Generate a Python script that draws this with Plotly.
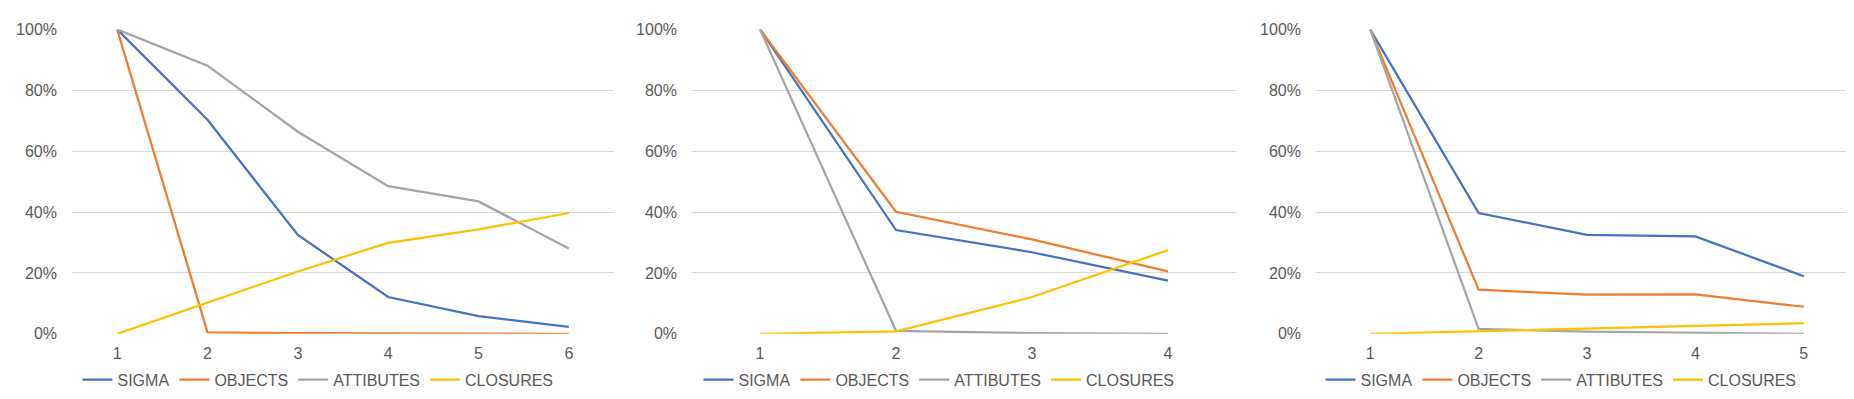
import plotly.graph_objects as go

series_names = ["SIGMA", "OBJECTS", "ATTIBUTES", "CLOSURES"]
series_colors = ["#4472C4", "#ED7D31", "#A5A5A5", "#FFC000"]

# Chart 1 (steps 1..6), fractions
c1_x = [1, 2, 3, 4, 5, 6]
c1_sigma = [1.00, 0.703, 0.325, 0.121, 0.058, 0.023]
c1_objects = [1.00, 0.005, 0.002, 0.001, 0.001, 0.0]
c1_attibutes = [1.00, 0.881, 0.664, 0.485, 0.435, 0.280]
c1_closures = [0.0, 0.102, 0.205, 0.299, 0.343, 0.397]

# Chart 2 (steps 1..4)
c2_x = [1, 2, 3, 4]
c2_sigma = [1.00, 0.341, 0.268, 0.175]
c2_objects = [1.00, 0.401, 0.310, 0.205]
c2_attibutes = [1.00, 0.010, 0.002, 0.0]
c2_closures = [0.0, 0.008, 0.121, 0.275]

# Chart 3 (steps 1..5)
c3_x = [1, 2, 3, 4, 5]
c3_sigma = [1.00, 0.397, 0.325, 0.320, 0.189]
c3_objects = [1.00, 0.145, 0.129, 0.130, 0.089]
c3_attibutes = [1.00, 0.016, 0.007, 0.003, 0.0]
c3_closures = [0.0, 0.008, 0.016, 0.026, 0.035]

y_ticks = [0, 0.2, 0.4, 0.6, 0.8, 1.0]
y_tick_labels = ["0%", "20%", "40%", "60%", "80%", "100%"]

charts = [
    (c1_x, [c1_sigma, c1_objects, c1_attibutes, c1_closures]),
    (c2_x, [c2_sigma, c2_objects, c2_attibutes, c2_closures]),
    (c3_x, [c3_sigma, c3_objects, c3_attibutes, c3_closures]),
]

W, H = 1854, 399
x_domains = [(64, 606), (684, 1228), (1308, 1850)]
legend_centers = [310, 931, 1553]
y_top, y_bottom = 14, 332

FONT = "Liberation Sans, Arial, sans-serif"
TXT = "#595959"
GRID = "#D9D9D9"

fig = go.Figure()
layout = dict(
    width=W, height=H,
    margin=dict(l=0, r=0, t=0, b=0),
    paper_bgcolor="white", plot_bgcolor="white",
    font=dict(family=FONT, size=16, color=TXT),
)

for i, (xs, ys_list) in enumerate(charts):
    idx = "" if i == 0 else str(i + 1)
    leg = "legend" if i == 0 else f"legend{i + 1}"
    for name, color, ys in zip(series_names, series_colors, ys_list):
        fig.add_trace(go.Scatter(
            x=xs, y=ys, mode="lines", name=name,
            line=dict(color=color, width=2.25),
            xaxis=f"x{idx}", yaxis=f"y{idx}", legend=leg,
            hoverinfo="skip",
        ))
    d0, d1 = x_domains[i]
    layout[f"xaxis{idx}"] = dict(
        domain=[d0 / W, d1 / W],
        range=[0.5, len(xs) + 0.5],
        tickvals=xs, ticktext=[str(v) for v in xs],
        showgrid=False, zeroline=False, showline=False,
        ticks="", ticklabelstandoff=8,
        tickfont=dict(family=FONT, size=16, color=TXT),
        anchor=f"y{idx}", fixedrange=True,
    )
    layout[f"yaxis{idx}"] = dict(
        domain=[1 - y_bottom / H, 1 - y_top / H],
        range=[0, 1],
        tickvals=y_ticks, ticktext=y_tick_labels,
        showgrid=True, gridcolor=GRID, gridwidth=1,
        zeroline=False, showline=False,
        ticks="", ticklabelstandoff=14,
        tickfont=dict(family=FONT, size=16, color=TXT),
        anchor=f"x{idx}", fixedrange=True,
    )
    layout[leg] = dict(
        orientation="h",
        x=legend_centers[i] / W, xanchor="center",
        y=1 - 380 / H, yanchor="middle",
        font=dict(family=FONT, size=16, color=TXT),
        itemwidth=30, bgcolor="rgba(0,0,0,0)",
        traceorder="normal",
    )

fig.update_layout(**layout)
fig.write_html("out.html")
